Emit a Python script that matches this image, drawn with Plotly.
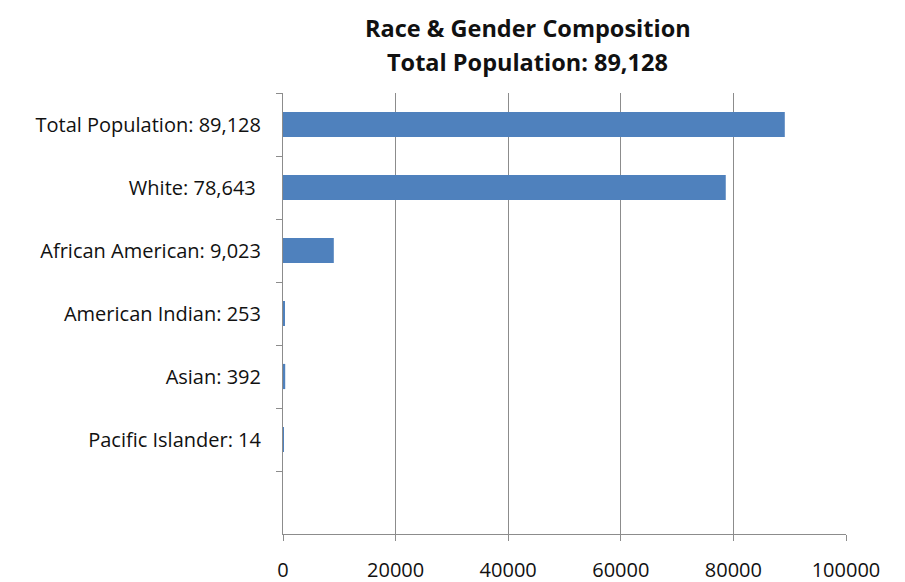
import plotly.graph_objects as go

categories = ["Total Population: 89,128", "White: 78,643 ", "African American: 9,023",
              "American Indian: 253", "Asian: 392", "Pacific Islander: 14", " "]
values = [89128, 78643, 9023, 253, 392, 14, None]
x_ticks = [0, 20000, 40000, 60000, 80000, 100000]
title_lines = ["Race & Gender Composition", "Total Population: 89,128"]

FONT = "Open Sans"
GRID = "#8c8c8c"
TXT = "#111111"

fig = go.Figure(go.Bar(
    y=categories, x=values, orientation="h",
    marker=dict(color="#4F81BD", line=dict(width=0)),
    width=0.4,
))

W, H = 905, 582
ml, mr, mt, mb = 283, 59, 93, 48
ph = H - mt - mb

def py(pix):
    return (H - mb - pix) / ph

annotations = [
    dict(text=title_lines[0], x=0.435, y=py(28), xref="paper", yref="paper",
         showarrow=False, xanchor="center", yanchor="middle",
         font=dict(family=FONT, size=23.5, color=TXT, weight="bold")),
    dict(text=title_lines[1], x=0.435, y=py(62), xref="paper", yref="paper",
         showarrow=False, xanchor="center", yanchor="middle",
         font=dict(family=FONT, size=23.5, color=TXT, weight="bold")),
]

fig.update_layout(
    width=W, height=H,
    margin=dict(l=ml, r=mr, t=mt, b=mb, pad=0, autoexpand=False),
    paper_bgcolor="white", plot_bgcolor="white",
    showlegend=False,
    annotations=annotations,
    font=dict(family=FONT, size=20, color=TXT),
    xaxis=dict(range=[0, 100000], tickvals=x_ticks, ticktext=[str(v) for v in x_ticks],
               showgrid=True, gridcolor=GRID, gridwidth=1,
               showline=True, linecolor=GRID, linewidth=1,
               ticks="outside", ticklen=6, tickcolor=GRID,
               zeroline=False, ticklabelstandoff=12, automargin=False,
               tickfont=dict(family=FONT, size=20, color=TXT)),
    yaxis=dict(categoryorder="array", categoryarray=categories,
               range=[6.5, -0.5], tickson="boundaries",
               showline=True, linecolor=GRID, linewidth=1,
               ticks="outside", ticklen=6, tickcolor=GRID,
               showgrid=False, zeroline=False, ticklabelstandoff=17, automargin=False,
               tickfont=dict(family=FONT, size=20, color=TXT)),
)

fig.write_html("out.html")
